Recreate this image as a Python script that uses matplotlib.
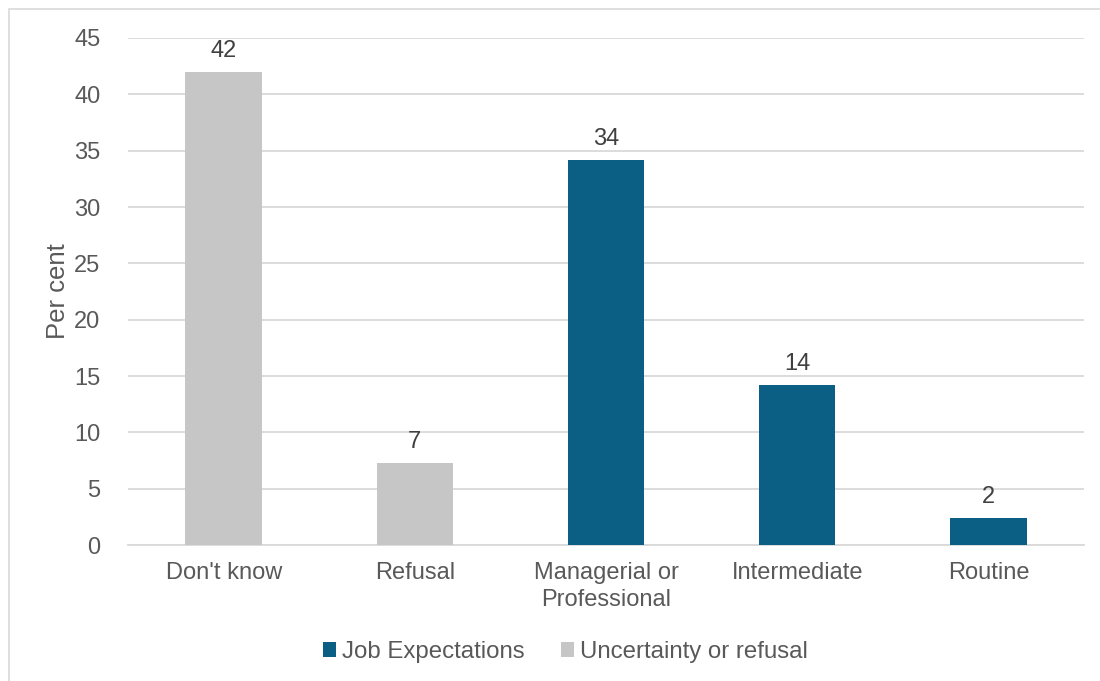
import matplotlib
matplotlib.use("Agg")
import matplotlib.pyplot as plt
from matplotlib.patches import Patch, Rectangle

categories = ["Don't know", "Refusal", "Managerial or\nProfessional", "Intermediate", "Routine"]
values = [42.0, 7.3, 34.2, 14.2, 2.4]
value_labels = ["42", "7", "34", "14", "2"]
groups = ["Uncertainty or refusal", "Uncertainty or refusal", "Job Expectations", "Job Expectations", "Job Expectations"]
yticks = [0, 5, 10, 15, 20, 25, 30, 35, 40, 45]
legend_order = ["Job Expectations", "Uncertainty or refusal"]

colors = {"Job Expectations": "#0B5F84", "Uncertainty or refusal": "#C6C6C6"}
text_color = "#595959"
grid_color = "#D9D9D9"

plt.rcParams['font.family'] = ['Liberation Sans', 'DejaVu Sans']

fig = plt.figure(figsize=(11, 6.81), dpi=100)
ax = fig.add_axes([0.1164, 0.1997, 0.8691, 0.7445])

x = list(range(len(categories)))
ax.bar(x, values, width=0.4, color=[colors[g] for g in groups], zorder=3)
for xi, v, lab in zip(x, values, value_labels):
    ax.annotate(lab, (xi, v), xytext=(0, 7), textcoords="offset points",
                ha="center", va="bottom", fontsize=17, color="#404040")

ax.set_xlim(-0.5, len(categories) - 0.5)
ax.set_ylim(0, 45)
ax.set_yticks(yticks)
ax.set_xticks(x)
ax.set_xticklabels(categories, linespacing=1.3)
ax.tick_params(axis="both", length=0, labelsize=17, labelcolor=text_color)
ax.tick_params(axis="y", pad=20)
ax.tick_params(axis="x", pad=12)
ax.yaxis.grid(True, color=grid_color, linewidth=1.3, zorder=0)
for s in ["top", "right", "left"]:
    ax.spines[s].set_visible(False)
ax.spines["bottom"].set_color(grid_color)
ax.spines["bottom"].set_linewidth(1.3)
ax.set_ylabel("Per cent", fontsize=18.5, color=text_color, labelpad=3)

handles = [Patch(facecolor=colors[g], edgecolor="none", label=g) for g in legend_order]
fig.legend(handles=handles, loc="center", bbox_to_anchor=(0.514, 0.0426), ncol=2,
           frameon=False, fontsize=17.3, labelcolor=text_color,
           handlelength=0.55, handleheight=0.55, handletextpad=0.25, columnspacing=1.5)

fig.patches.append(Rectangle((9 / 1100, -0.1), 1.2, 1 - 9 / 681 + 0.1, transform=fig.transFigure,
                             fill=False, edgecolor=grid_color, linewidth=1.2))

fig.savefig("out.png", dpi=100)
